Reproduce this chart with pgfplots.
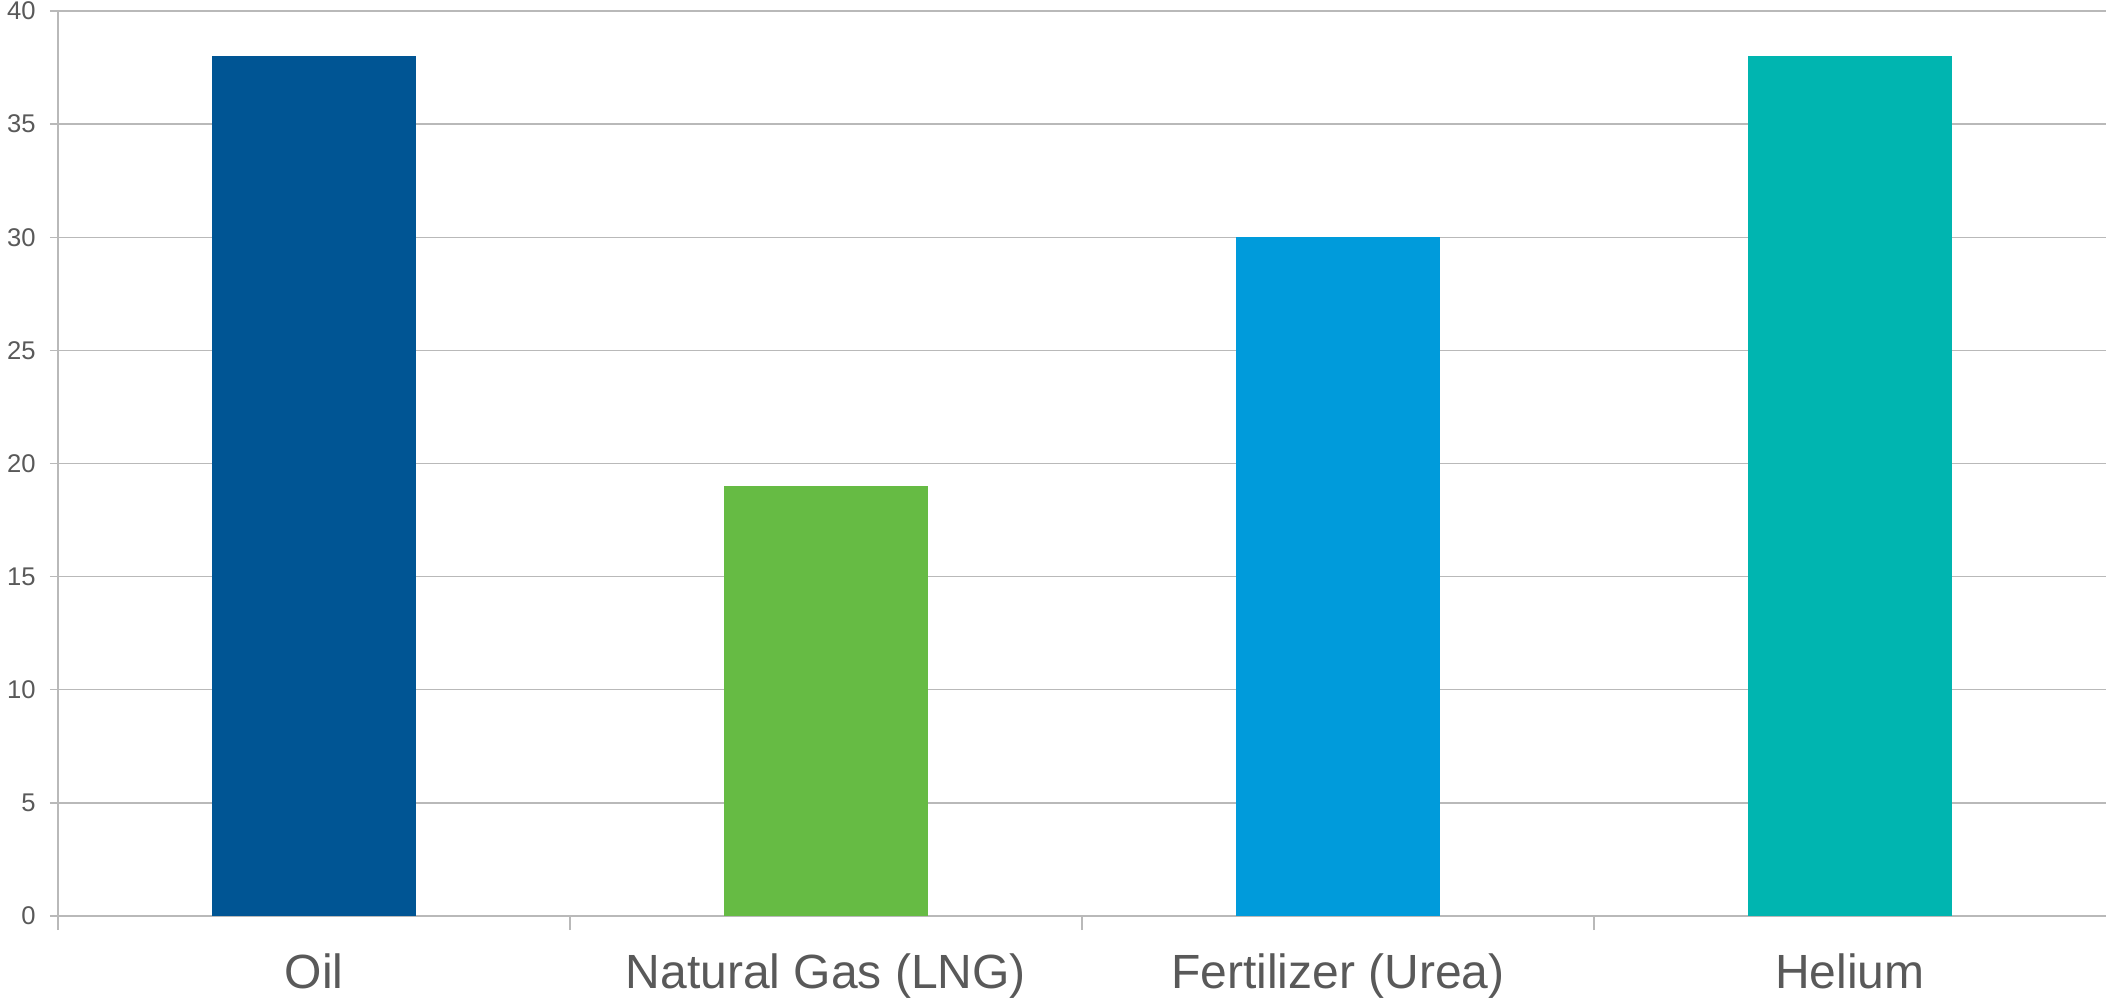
\documentclass[border=0pt]{standalone}
\usepackage{pgfplots}
\pgfplotsset{compat=1.18}
\usepackage{fontspec}
\setmainfont{Liberation Sans}
\definecolor{oilc}{RGB}{0,85,148}
\definecolor{gasc}{RGB}{102,187,68}
\definecolor{ferc}{RGB}{0,155,219}
\definecolor{helc}{RGB}{0,181,176}
\definecolor{axgray}{RGB}{185,185,185}
\definecolor{txtgray}{RGB}{89,89,89}
\begin{document}
\begin{tikzpicture}
\begin{axis}[
  at={(29bp,42.5bp)}, anchor=south west,
  scale only axis, width=1024bp, height=452.5bp,
  xmin=-0.5, xmax=3.5, ymin=0, ymax=40,
  /pgf/number format/assume math mode=true,
  ytick={0,5,...,40},
  xtick={0,1,2,3},
  xticklabels={Oil, Natural Gas (LNG), Fertilizer (Urea), Helium},
  xtick style={draw=none},
  extra x ticks={-0.5,0.5,1.5,2.5},
  extra x tick labels={},
  extra x tick style={grid=none, major tick length=7bp, tick align=outside, xtick style={draw=axgray, line width=0.7bp}},
  ytick style={draw=axgray, line width=0.7bp},
  major tick length=4bp, tick align=outside,
  ymajorgrids, grid style={axgray, line width=0.7bp},
  axis x line*=bottom, axis y line*=left,
  axis line style={axgray, line width=0.7bp},
  yticklabel style={font=\fontsize{12.8bp}{14bp}\selectfont, text=txtgray, anchor=east, inner sep=0pt, xshift=-7bp},
  xticklabel style={font=\fontsize{24bp}{28bp}\selectfont, text=txtgray, anchor=north, inner sep=0pt, yshift=-14.5bp},
  ybar, bar width=102bp,
]
\addplot[ybar, bar shift=0pt, fill=oilc, draw=none] coordinates {(0,38)};
\addplot[ybar, bar shift=0pt, fill=gasc, draw=none] coordinates {(1,19)};
\addplot[ybar, bar shift=0pt, fill=ferc, draw=none] coordinates {(2,30)};
\addplot[ybar, bar shift=0pt, fill=helc, draw=none] coordinates {(3,38)};
\end{axis}
\pgfresetboundingbox
\useasboundingbox (0,0) rectangle (1053bp,500.5bp);
\end{tikzpicture}
\end{document}
